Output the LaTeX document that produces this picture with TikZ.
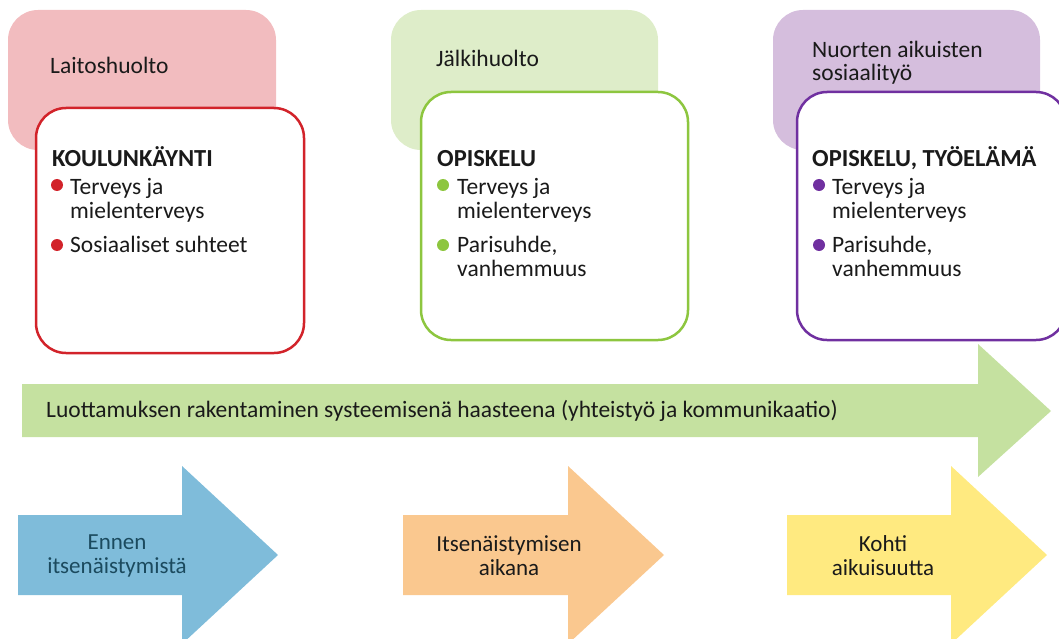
\documentclass[tikz,border=0pt]{standalone}
\usepackage{fontspec}
\setmainfont{Carlito}
\usetikzlibrary{positioning}

\definecolor{pinkbg}{HTML}{F2BCBF}
\definecolor{redline}{HTML}{D2232A}
\definecolor{greenbg}{HTML}{DEEDC9}
\definecolor{greenline}{HTML}{8DC63F}
\definecolor{purplebg}{HTML}{D5BEDD}
\definecolor{purpleline}{HTML}{7030A0}
\definecolor{arrowgreen}{HTML}{C5E1A0}
\definecolor{arrowblue}{HTML}{7FBCDA}
\definecolor{arroworange}{HTML}{FAC88F}
\definecolor{arrowyellow}{HTML}{FFEA80}
\definecolor{tealtext}{HTML}{1B4A5E}
\definecolor{darktext}{HTML}{1A1A1A}

\tikzset{
    txt/.style={anchor=base west, inner sep=0pt, text=darktext, font=\fontsize{23.5}{24}\selectfont},
    head/.style={txt, font=\fontsize{24.5}{24}\selectfont\bfseries},
    frontbox/.style={fill=white, line width=2.5pt, rounded corners=30},
    arrowtxt/.style={align=center, inner sep=0pt, font=\fontsize{23}{24}\selectfont}
}

\begin{document}
\begin{tikzpicture}[x=1pt, y=-1pt]
        \useasboundingbox (0,0) rectangle (1059,639);

        % back boxes
        \fill[pinkbg, rounded corners=30] (8,10) rectangle (276,150);
        \fill[greenbg, rounded corners=30] (391,10) rectangle (658,150);
        \fill[purplebg, rounded corners=30] (773,10) rectangle (1040,150);

        \node[txt] (laitos) at (50,74) {Laitoshuolto};
        \node[txt] (jalki) at (436,67) {Jälkihuolto};
        \node[txt] (nuoret) at (812,58) {Nuorten aikuisten};
        \node[txt] (sosiaali) at (812,81) {sosiaalityö};

        % front boxes
        \draw[frontbox, draw=redline] (36,108) rectangle (304,353);
        \draw[frontbox, draw=greenline] (421,92) rectangle (688,340);
        \draw[frontbox, draw=purpleline] (797,92) rectangle (1066,340);

        % red box
        \node[head] (koulu) at (52,167) {KOULUNKÄYNTI};
        \fill[redline] (57,185) circle (6);
        \node[txt] (terveys1) at (70,194) {Terveys ja};
        \node[txt] (mielen1) at (70,218) {mielenterveys};
        \fill[redline] (57,245) circle (6);
        \node[txt] (sosiaaliset) at (70,252) {Sosiaaliset suhteet};

        % green box
        \node[head] (opiskelu) at (437,167) {OPISKELU};
        \fill[greenline] (443,185) circle (6);
        \node[txt] (terveys2) at (457,194) {Terveys ja};
        \node[txt] (mielen2) at (457,218) {mielenterveys};
        \fill[greenline] (443,245) circle (6);
        \node[txt] (pari2) at (457,252) {Parisuhde,};
        \node[txt] (vanh2) at (457,276) {vanhemmuus};

        % purple box
        \node[head] (tyo) at (812,167) {OPISKELU, TYÖELÄMÄ};
        \fill[purpleline] (819,185) circle (6);
        \node[txt] (terveys3) at (832,194) {Terveys ja};
        \node[txt] (mielen3) at (832,218) {mielenterveys};
        \fill[purpleline] (819,245) circle (6);
        \node[txt] (pari3) at (832,252) {Parisuhde,};
        \node[txt] (vanh3) at (832,276) {vanhemmuus};

        % long arrow
        \fill[arrowgreen] (22,384) -- (978,384) -- (978,344) -- (1051,411) -- (978,477) -- (978,437) -- (22,437) -- cycle;
        \node[txt, anchor=west] (luottamus) at (46,411) {Luottamuksen rakentaminen systeemisenä haasteena (yhteistyö ja kommunikaatio)};

        % phase arrows
        \fill[arrowblue] (18,515) -- (182,515) -- (182,466) -- (278,555) -- (182,644) -- (182,595) -- (18,595) -- cycle;
        \fill[arroworange] (403,515) -- (568,515) -- (568,466) -- (664,555) -- (568,644) -- (568,595) -- (403,595) -- cycle;
        \fill[arrowyellow] (787,515) -- (951,515) -- (951,466) -- (1047,555) -- (951,644) -- (951,595) -- (787,595) -- cycle;

        \node[arrowtxt, text=tealtext] (ennen) at (117,556) {Ennen\\itsenäistymistä};
        \node[arrowtxt, text=darktext] (aikana) at (509,556) {Itsenäistymisen\\aikana};
        \node[arrowtxt, text=darktext] (kohti) at (883,556) {Kohti\\aikuisuutta};

    \end{tikzpicture}
\end{document}
